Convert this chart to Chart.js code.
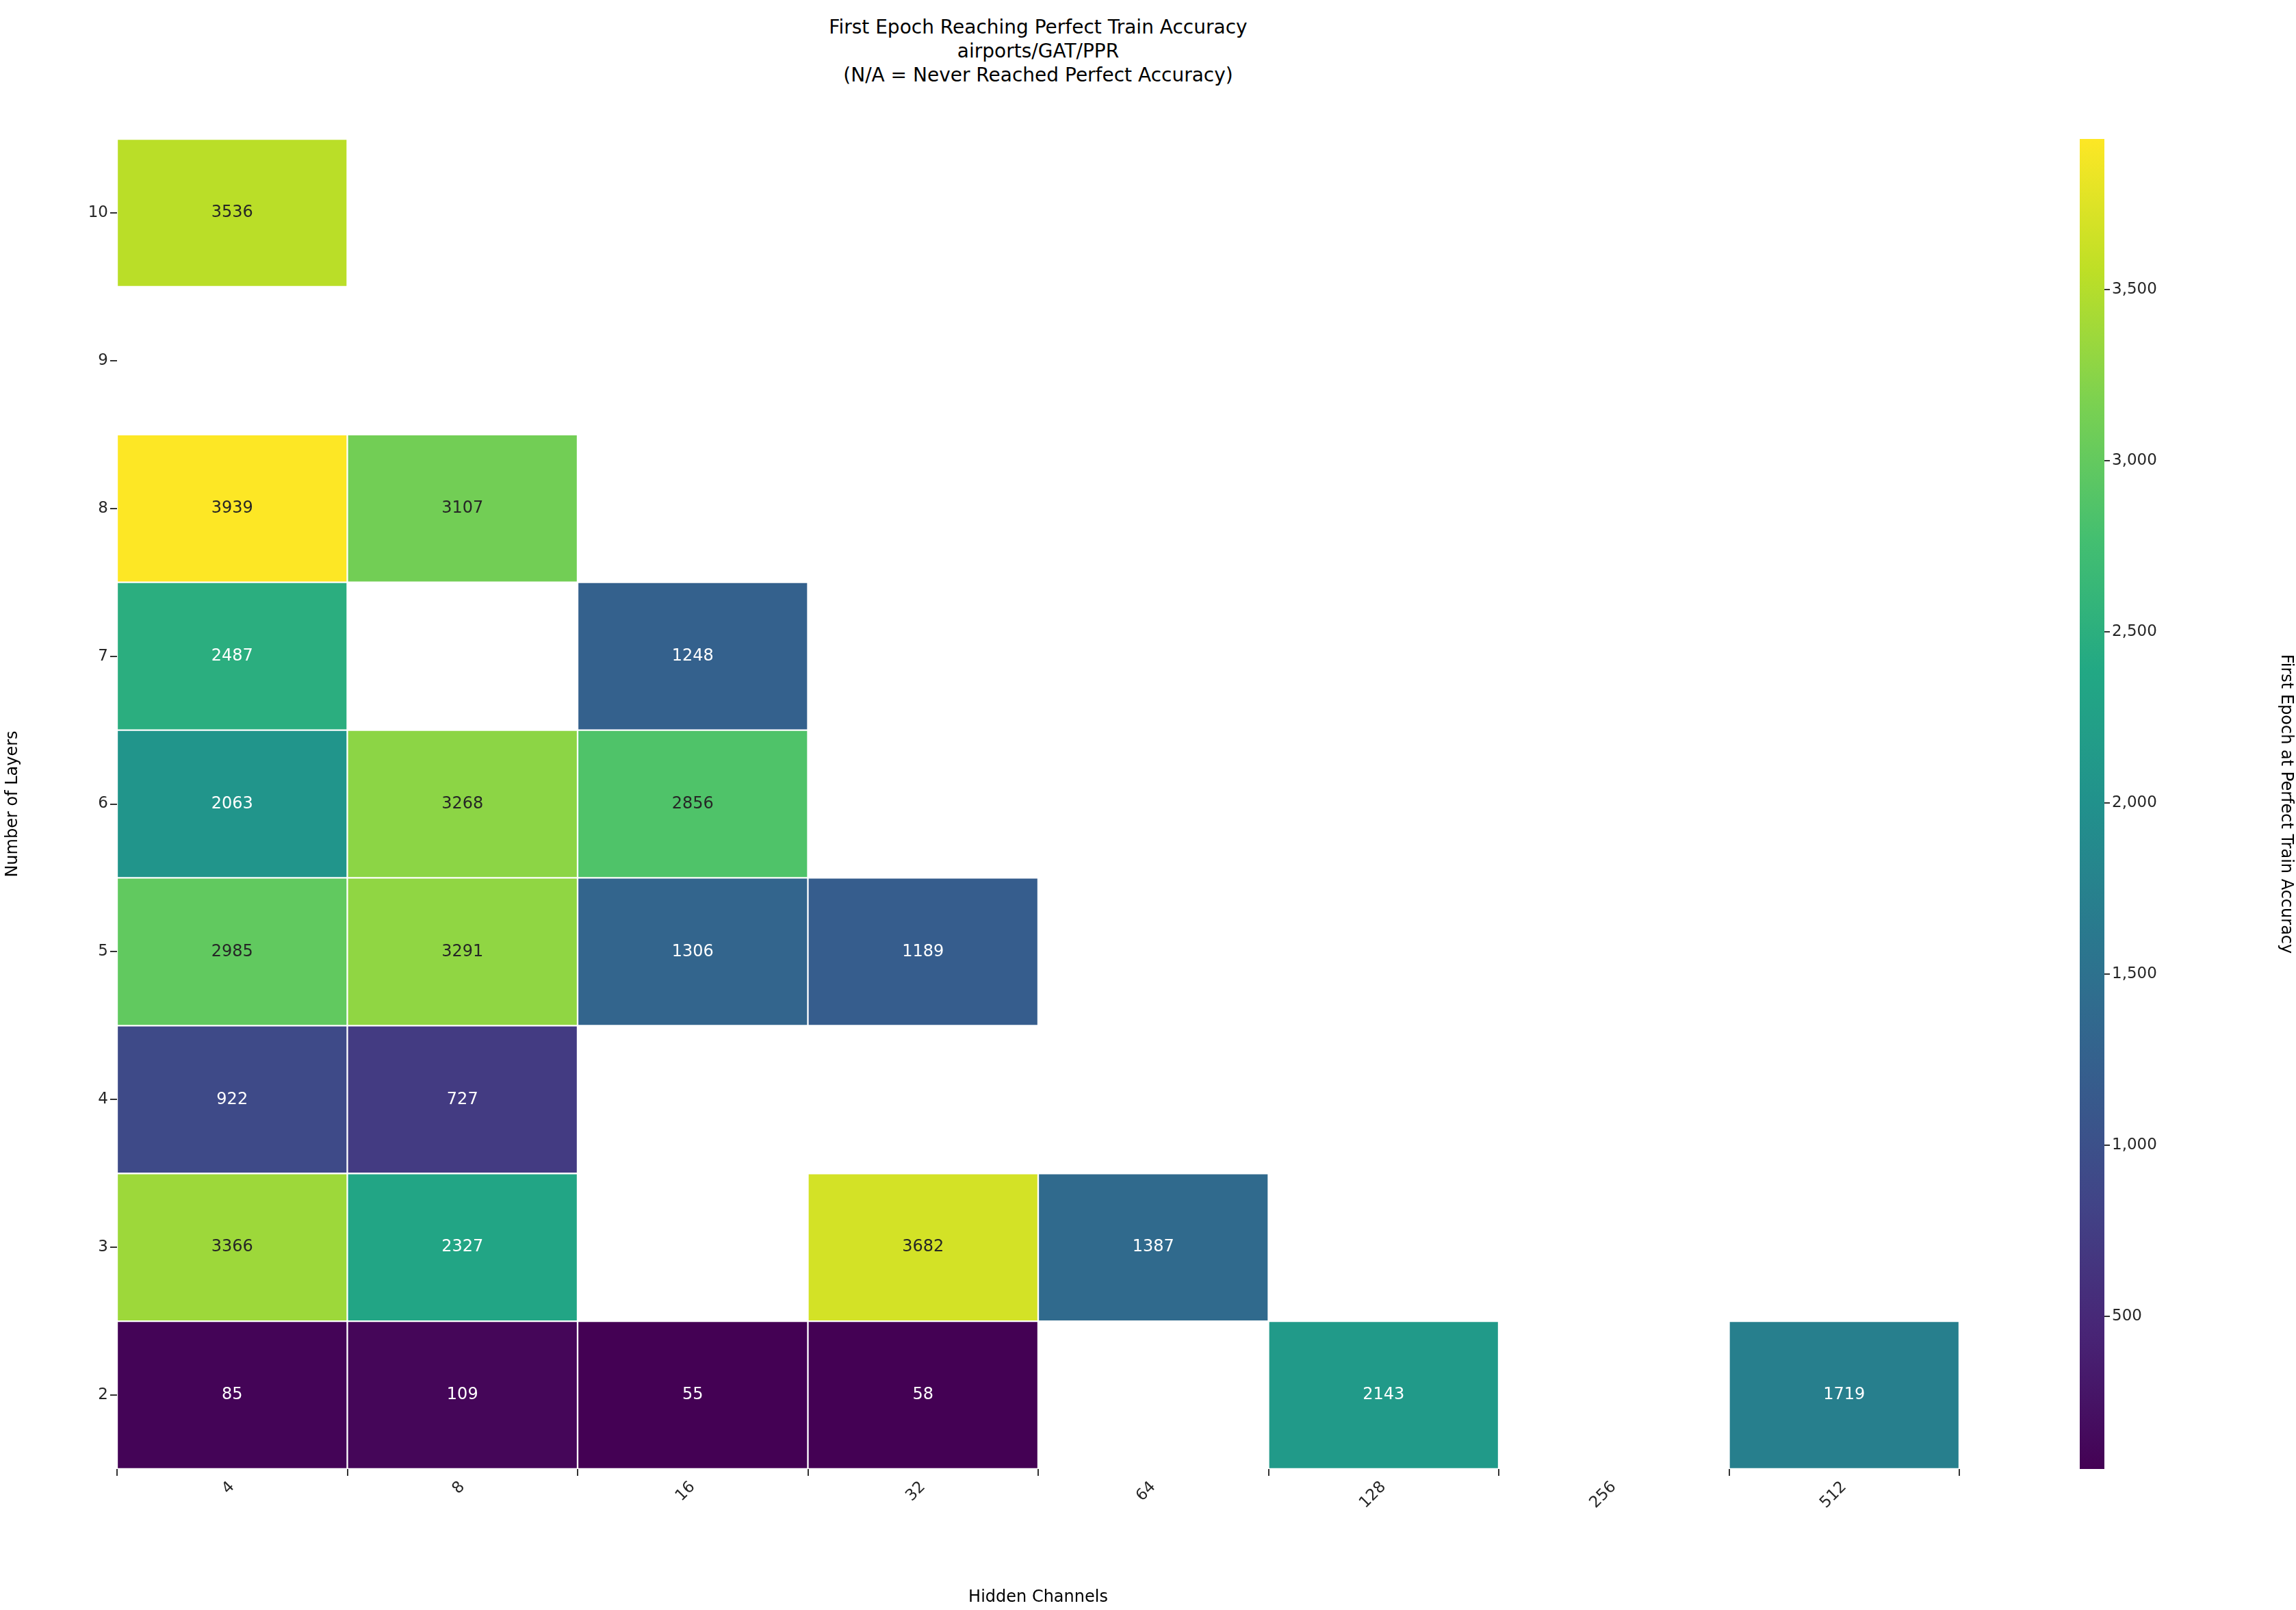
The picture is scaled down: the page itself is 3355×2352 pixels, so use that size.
<!DOCTYPE html>
<html><head><meta charset="utf-8">
<script src="https://cdn.jsdelivr.net/npm/chart.js@4"></script>
<style>
body{margin:0;background:#fff;width:3355px;height:2352px;overflow:hidden;font-family:"DejaVu Sans",sans-serif;}
#t{position:absolute;left:0;width:3034px;top:22px;text-align:center;font-size:28px;line-height:35px;color:#000;}
canvas{position:absolute;top:0;}
</style></head><body>
<div id="t">First Epoch Reaching Perfect Train Accuracy<br>airports/GAT/PPR<br>(N/A = Never Reached Perfect Accuracy)</div>
<canvas id="m" width="2900" height="2352" style="left:0;width:2900px;height:2352px"></canvas>
<canvas id="c" width="320" height="2352" style="left:3039px;width:320px;height:2352px"></canvas>
<script>
const hiddenChannels=["4","8","16","32","64","128","256","512"];
const layers=[2,3,4,5,6,7,8,9,10];
const row2=[85,109,55,58,null,2143,null,1719];
const row3=[3366,2327,null,3682,1387,null,null,null];
const row4=[922,727,null,null,null,null,null,null];
const row5=[2985,3291,1306,1189,null,null,null,null];
const row6=[2063,3268,2856,null,null,null,null,null];
const row7=[2487,null,1248,null,null,null,null,null];
const row8=[3939,3107,null,null,null,null,null,null];
const row9=[null,null,null,null,null,null,null,null];
const row10=[3536,null,null,null,null,null,null,null];
const rows=[row2,row3,row4,row5,row6,row7,row8,row9,row10];
const vmin=55,vmax=3939;
const colorbarTicks=[500,1000,1500,2000,2500,3000,3500];
const VIR=[[68,1,84],[72,36,117],[65,68,135],[53,95,141],[42,120,142],[33,145,140],[34,168,132],[68,191,112],[122,209,81],[189,223,38],[253,231,37]];
function vir(t){t=Math.max(0,Math.min(1,t));const p=t*(VIR.length-1),i=Math.min(Math.floor(p),VIR.length-2),f=p-i;
const c=VIR[i].map((a,k)=>Math.round(a+(VIR[i+1][k]-a)*f));return `rgb(${c[0]},${c[1]},${c[2]})`;}
const F="'DejaVu Sans'";
const datasets=rows.map((r,ri)=>({
  data:r.map(v=>v==null?null:[layers[ri]-0.5,layers[ri]+0.5]),
  vals:r,
  backgroundColor:r.map(v=>v==null?'rgba(0,0,0,0)':vir((v-vmin)/(vmax-vmin))),
  borderColor:'#fff',borderWidth:1.5,borderSkipped:false,
  barPercentage:1,categoryPercentage:1,grouped:false
}));
const labelPlugin={id:'lbl',afterDatasetsDraw(ch){const ctx=ch.ctx;ctx.save();ctx.font=`24px ${F}`;ctx.textAlign='center';ctx.textBaseline='middle';
ch.data.datasets.forEach((d,i)=>{ch.getDatasetMeta(i).data.forEach((el,j)=>{const v=d.vals[j];if(v==null)return;
ctx.fillStyle=v>2700?'#262626':'#fff';ctx.fillText(String(v),el.x,(el.y+el.base)/2);});});ctx.restore();}};
new Chart(document.getElementById('m'),{type:'bar',data:{labels:hiddenChannels,datasets},
options:{responsive:false,animation:false,devicePixelRatio:1,layout:{padding:{top:203,right:37}},
plugins:{legend:{display:false},tooltip:{enabled:false}},
scales:{
 x:{offset:true,grid:{drawOnChartArea:false,tickLength:10,color:'#333',lineWidth:2},border:{display:false},
  ticks:{font:{size:23,family:F},color:'#262626',maxRotation:45,minRotation:45},
  title:{display:true,text:'Hidden Channels',font:{size:24,family:F},color:'#000'},
  afterFit(s){s.height=206;}},
 y:{type:'linear',min:1.5,max:10.5,grid:{drawOnChartArea:false,tickLength:10,color:'#333',lineWidth:2},border:{display:false},
  afterBuildTicks(s){s.ticks=layers.map(v=>({value:v}));},
  ticks:{font:{size:23,family:F},color:'#262626'},
  title:{display:true,text:'Number of Layers',font:{size:24,family:F},color:'#000'},
  afterFit(s){s.width=171;}}
}},plugins:[labelPlugin]});
new Chart(document.getElementById('c'),{type:'bar',data:{labels:['cb'],datasets:[{data:[[vmin,vmax]],
 backgroundColor(ctx){const a=ctx.chart.chartArea;if(!a)return '#888';const g=ctx.chart.ctx.createLinearGradient(0,a.bottom,0,a.top);
 for(let i=0;i<=20;i++)g.addColorStop(i/20,vir(i/20));return g;},barPercentage:1,categoryPercentage:1,borderWidth:0}]},
options:{responsive:false,animation:false,devicePixelRatio:1,layout:{padding:{top:203,bottom:0,left:0}},
plugins:{legend:{display:false},tooltip:{enabled:false}},
scales:{x:{display:false},
 y:{position:'right',min:vmin,max:vmax,grid:{drawOnChartArea:false,tickLength:8,color:'#333',lineWidth:2},border:{display:false},
  afterBuildTicks(s){s.ticks=colorbarTicks.map(v=>({value:v}));},
  ticks:{font:{size:23,family:F},color:'#262626'},
  title:{display:true,text:'First Epoch at Perfect Train Accuracy',font:{size:24,family:F},color:'#000'},
  afterFit(s){s.width=284;}}},
},plugins:[{id:'bot',beforeLayout(ch){ch.options.layout.padding.bottom=206;}}]});
</script></body></html>
